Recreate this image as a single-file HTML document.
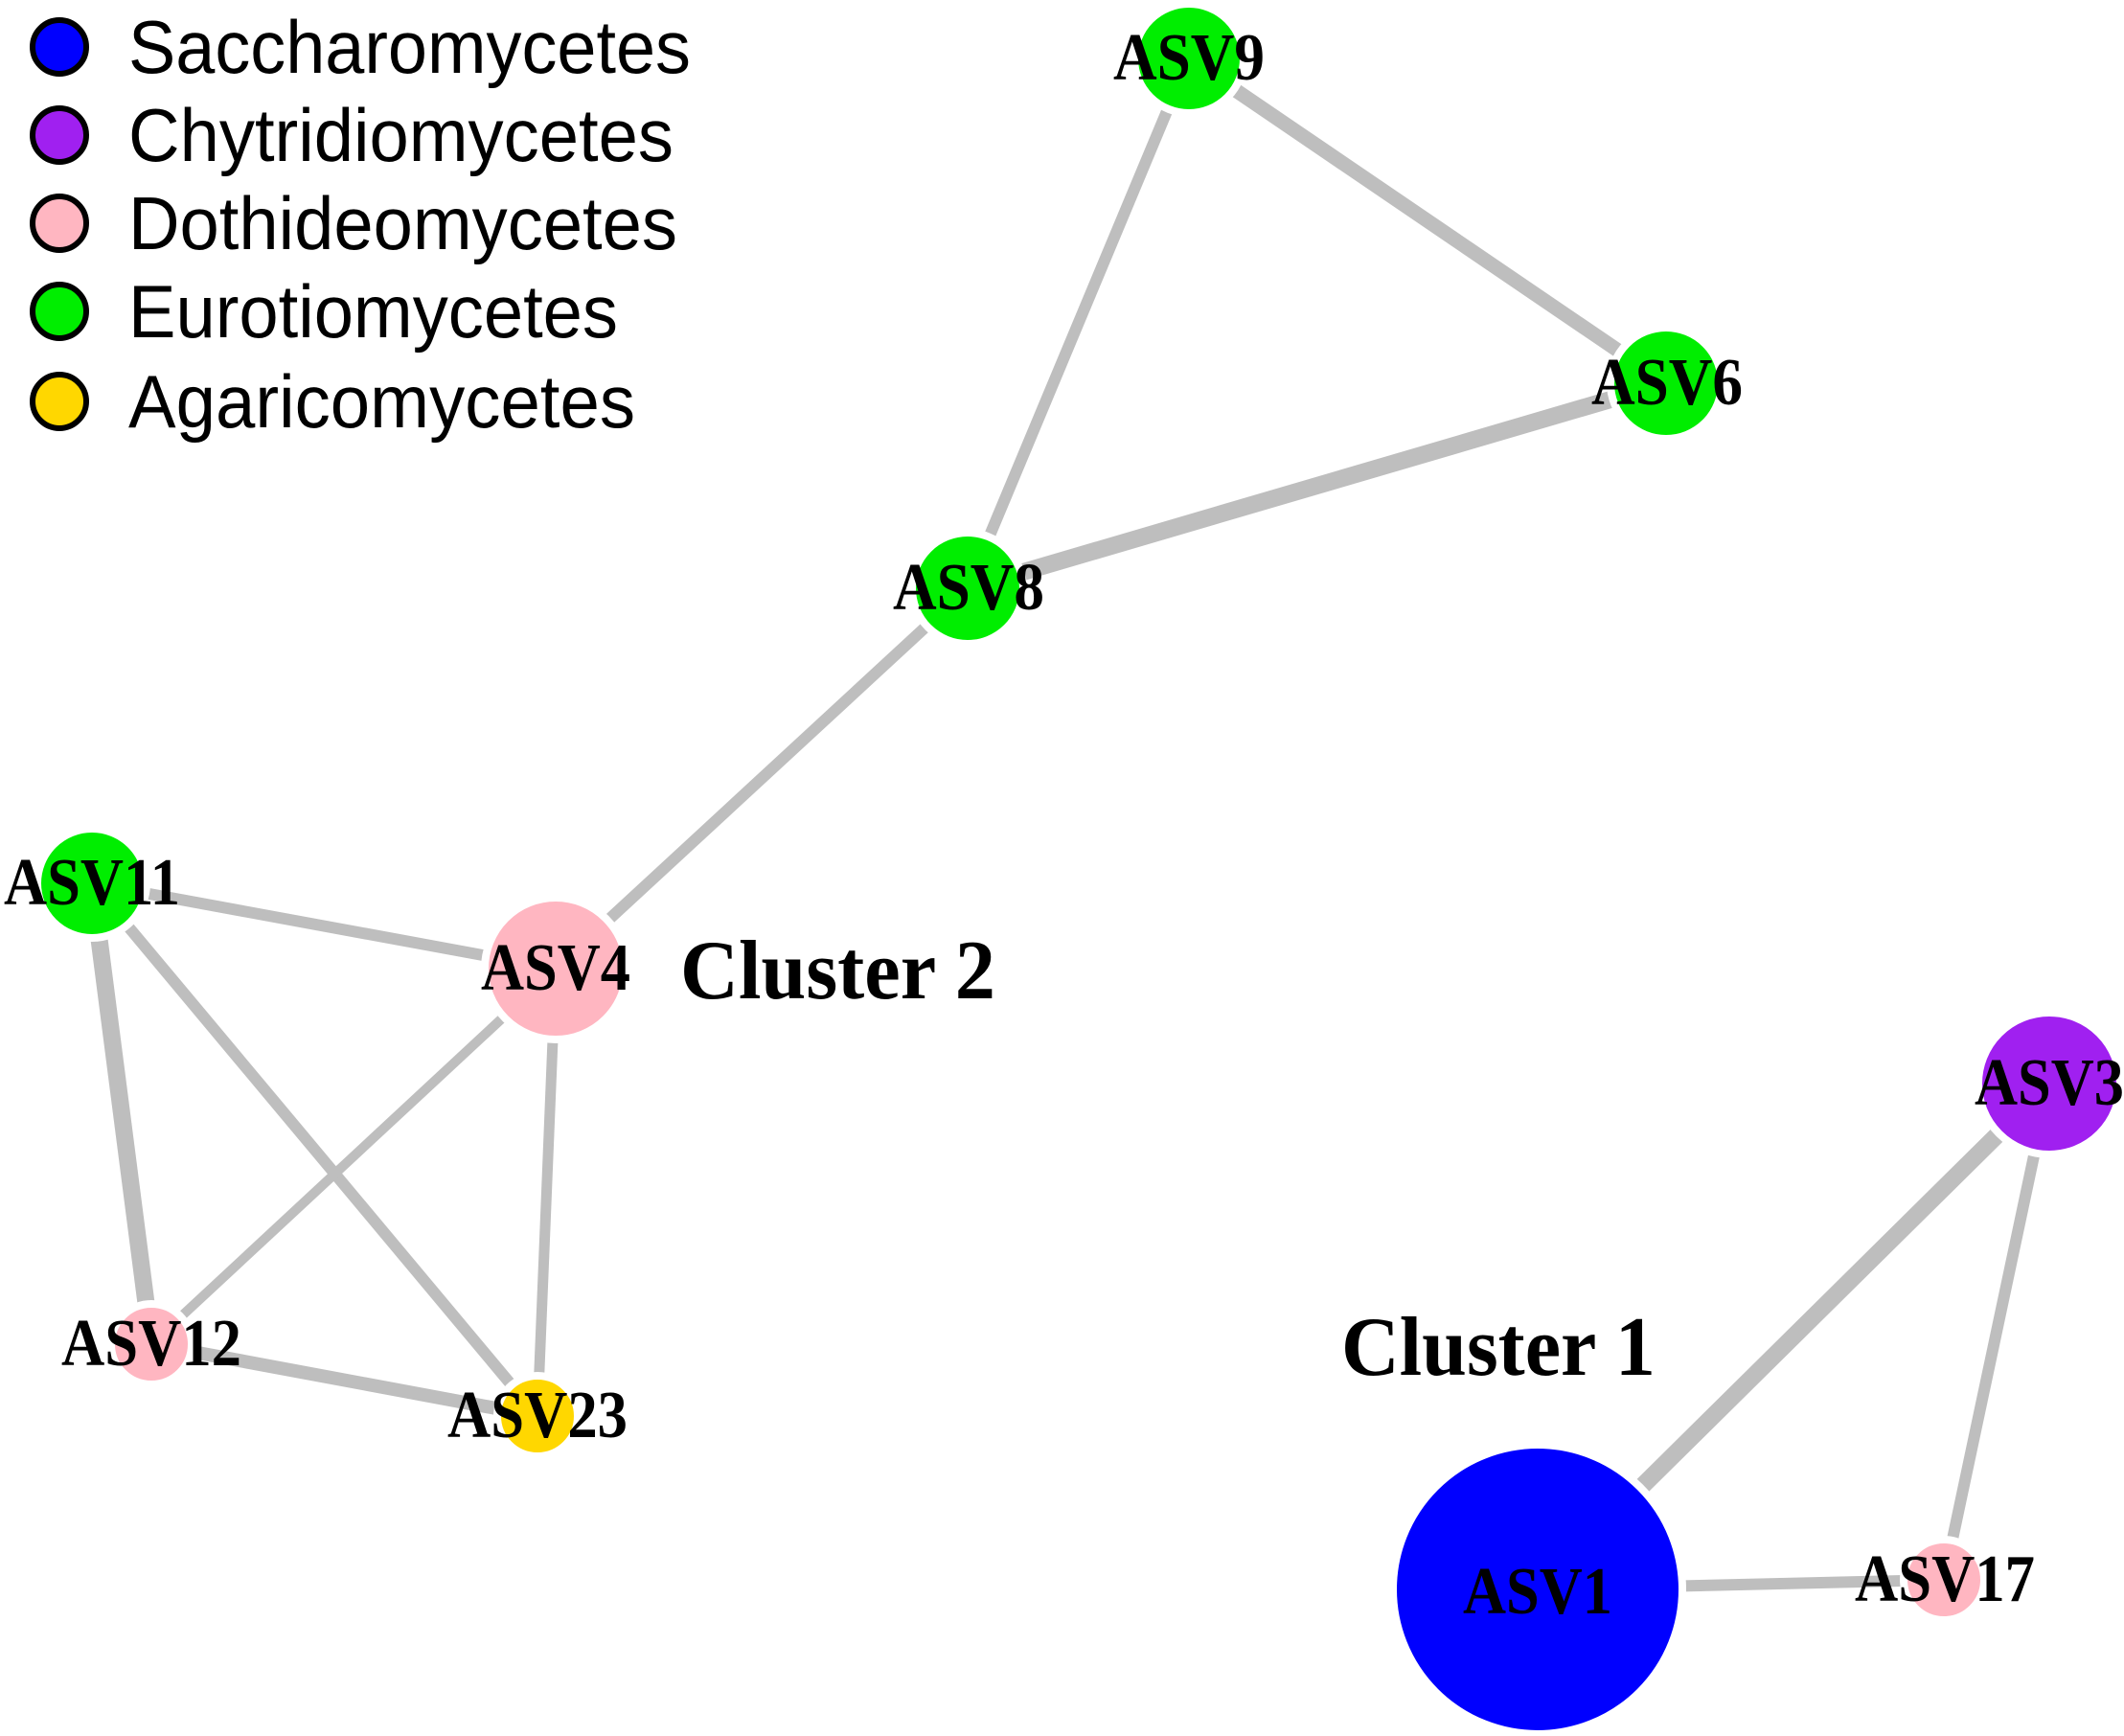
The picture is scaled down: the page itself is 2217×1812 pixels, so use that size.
<!DOCTYPE html>
<html><head><meta charset="utf-8"><style>html,body{margin:0;padding:0;background:#fff}svg{display:block}</style></head>
<body>
<svg width="2217" height="1812" viewBox="0 0 2217 1812" xmlns="http://www.w3.org/2000/svg">
<g stroke="#bebebe" stroke-linecap="butt">
<line x1="1241" y1="61" x2="1739" y2="400" stroke-width="15"/>
<line x1="1241" y1="61" x2="1010" y2="614" stroke-width="12"/>
<line x1="1010" y1="614" x2="1739" y2="400" stroke-width="18"/>
<line x1="1010" y1="614" x2="580" y2="1011" stroke-width="12"/>
<line x1="96" y1="922" x2="580" y2="1011" stroke-width="12"/>
<line x1="96" y1="922" x2="158" y2="1403" stroke-width="18"/>
<line x1="96" y1="922" x2="561" y2="1478" stroke-width="12"/>
<line x1="580" y1="1011" x2="158" y2="1403" stroke-width="10"/>
<line x1="580" y1="1011" x2="561" y2="1478" stroke-width="11"/>
<line x1="158" y1="1403" x2="561" y2="1478" stroke-width="14"/>
<line x1="2139" y1="1131" x2="1605" y2="1659" stroke-width="18"/>
<line x1="2139" y1="1131" x2="2029" y2="1649" stroke-width="12"/>
<line x1="1605" y1="1659" x2="2029" y2="1649" stroke-width="12"/>
</g>
<g stroke="#fff" stroke-width="8">
<circle cx="1241" cy="61" r="57" fill="#00ee00"/>
<circle cx="1739" cy="400" r="58" fill="#00ee00"/>
<circle cx="1010" cy="614" r="58" fill="#00ee00"/>
<circle cx="96" cy="922" r="57" fill="#00ee00"/>
<circle cx="580" cy="1011" r="74" fill="#ffb6c1"/>
<circle cx="158" cy="1403" r="42" fill="#ffb6c1"/>
<circle cx="561" cy="1478" r="42" fill="#ffd700"/>
<circle cx="2139" cy="1131" r="74" fill="#a020f0"/>
<circle cx="1605" cy="1659" r="151" fill="#0000ff"/>
<circle cx="2029" cy="1649" r="42" fill="#ffb6c1"/>
</g>
<g font-family="'Liberation Serif',serif" font-weight="bold" font-size="70" fill="#000" text-anchor="middle">
<text x="1241" y="83" textLength="158" lengthAdjust="spacingAndGlyphs">ASV9</text>
<text x="1740" y="422" textLength="158" lengthAdjust="spacingAndGlyphs">ASV6</text>
<text x="1011" y="636" textLength="158" lengthAdjust="spacingAndGlyphs">ASV8</text>
<text x="96" y="944" textLength="184" lengthAdjust="spacingAndGlyphs">ASV11</text>
<text x="580" y="1033" textLength="156" lengthAdjust="spacingAndGlyphs">ASV4</text>
<text x="158" y="1425" textLength="188" lengthAdjust="spacingAndGlyphs">ASV12</text>
<text x="561" y="1500" textLength="188" lengthAdjust="spacingAndGlyphs">ASV23</text>
<text x="2139" y="1153" textLength="156" lengthAdjust="spacingAndGlyphs">ASV3</text>
<text x="1605" y="1684" textLength="156" lengthAdjust="spacingAndGlyphs">ASV1</text>
<text x="2030" y="1671" textLength="188" lengthAdjust="spacingAndGlyphs">ASV17</text>
</g>
<g font-family="'Liberation Serif',serif" font-weight="bold" font-size="88" fill="#000">
<text x="710" y="1042" textLength="329" lengthAdjust="spacingAndGlyphs">Cluster 2</text>
<text x="1400" y="1435" textLength="328" lengthAdjust="spacingAndGlyphs">Cluster 1</text>
</g>
<g stroke="#000" stroke-width="6">
<circle cx="62" cy="49" r="28" fill="#0000ff"/>
<circle cx="62" cy="141" r="28" fill="#a020f0"/>
<circle cx="62" cy="233" r="28" fill="#ffb6c1"/>
<circle cx="62" cy="325" r="28" fill="#00ee00"/>
<circle cx="62" cy="419" r="28" fill="#ffd700"/>
</g>
<g font-family="'Liberation Sans',sans-serif" font-size="78" fill="#000">
<text x="134" y="76" textLength="587" lengthAdjust="spacingAndGlyphs">Saccharomycetes</text>
<text x="134" y="168" textLength="569" lengthAdjust="spacingAndGlyphs">Chytridiomycetes</text>
<text x="134" y="260" textLength="573" lengthAdjust="spacingAndGlyphs">Dothideomycetes</text>
<text x="134" y="352" textLength="511" lengthAdjust="spacingAndGlyphs">Eurotiomycetes</text>
<text x="134" y="446" textLength="529" lengthAdjust="spacingAndGlyphs">Agaricomycetes</text>
</g>
</svg>
</body></html>
